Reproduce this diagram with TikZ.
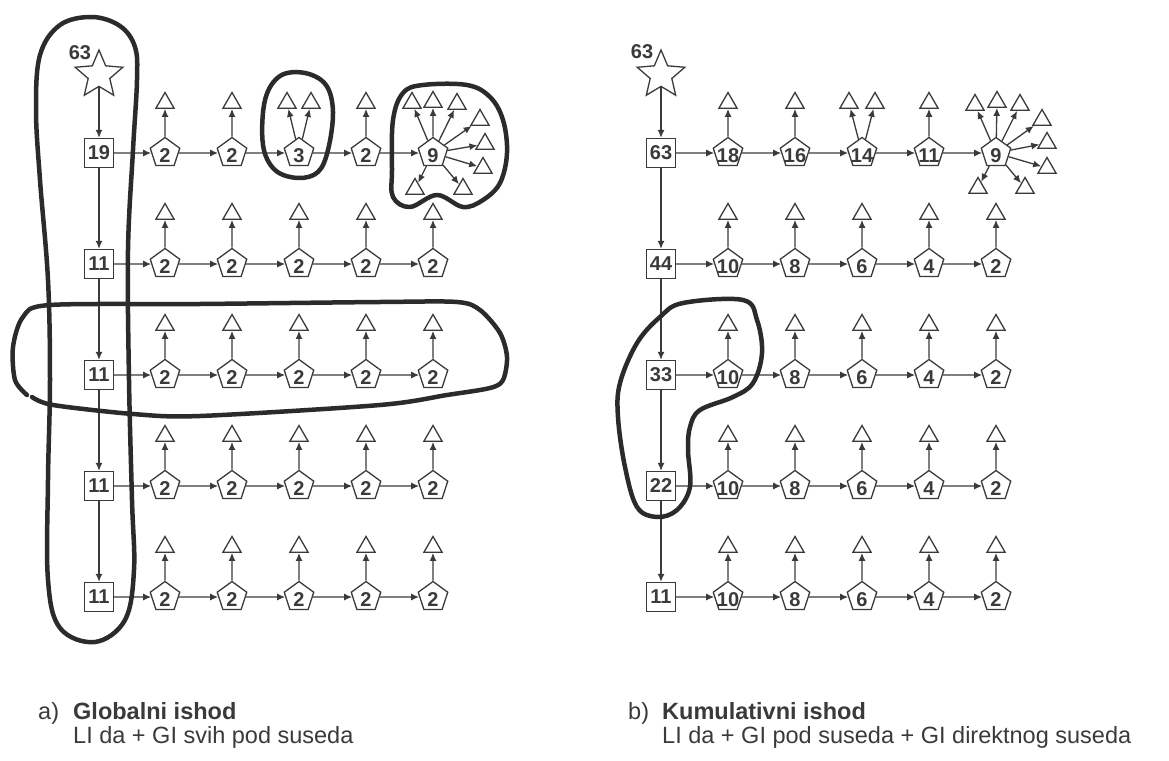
\documentclass[tikz,border=0pt]{standalone}
\usepackage{fontspec}
\setmainfont{Liberation Sans}
\usepackage{tikz}
\usetikzlibrary{calc,shapes.geometric,arrows.meta}
\definecolor{ink}{HTML}{3A3A3A}
\definecolor{hullink}{HTML}{2B2B2B}
\newcommand{\numfont}{\fontsize{20}{20}\selectfont\bfseries}
\newcommand{\capfont}{\fontsize{23.5}{23.5}\selectfont}
\tikzset{
	ln/.style={draw=ink, line width=1.3pt},
	sqbox/.style={ln, minimum size=29pt, inner sep=0pt, font=\numfont, text=ink},
	pent/.style={ln, regular polygon, regular polygon sides=5, minimum size=31pt, inner sep=-5pt, text height=19pt, text depth=0pt, font=\numfont, text=ink},
	tri/.style={ln, regular polygon, regular polygon sides=3, minimum size=21pt, inner sep=0pt},
	startstar/.style={ln, star, star points=5, star point ratio=2.2, minimum size=50pt, inner sep=0pt},
	arr/.style={ln, -{Latex[length=8pt,width=7pt]}},
	hull/.style={draw=hullink, line width=4.5pt, line cap=round, line join=round},
	captext/.style={font=\capfont, text=ink, anchor=base west, inner sep=0pt},
}

\begin{document}
\begin{tikzpicture}[x=1pt,y=-1pt]
	\useasboundingbox (0,0) rectangle (1169,760);

	% a) globalni ishod
	\node[startstar] (La) at (99,75) {};
	\node[font=\numfont, text=ink] (Lsum) at (80,53) {63};
	\foreach \r/\y/\v in {1/153/19,2/264/11,3/375/11,4/486/11,5/597/11}
		\node[sqbox] (L\r) at (99,\y) {\v};
	\foreach \c/\x/\v in {1/165/2,2/232/2,3/299/3,4/366/2,5/433/9}
		\node[pent] (L1-\c) at (\x,153) {\v};
	\foreach \r/\y in {2/264,3/375,4/486,5/597}{
		\foreach \c/\x in {1/165,2/232,3/299,4/366,5/433}{
			\node[pent] (L\r-\c) at (\x,\y) {2};
			\node[tri] (L\r-\c-t) at ($(L\r-\c)+(0,-50)$) {};
			\draw[arr] (L\r-\c) -- (L\r-\c-t);
		}
	}
	\foreach \c in {1,2,4}{
		\node[tri] (L1-\c-t) at ($(L1-\c)+(0,-50)$) {};
		\draw[arr] (L1-\c) -- (L1-\c-t);
	}
	\foreach \i/\dx in {1/-12,2/12}{
		\node[tri] (L1-3-t\i) at ($(L1-3)+(\dx,-50)$) {};
		\draw[arr] (L1-3) -- (L1-3-t\i);
	}
	\foreach \i/\dx/\dy in {1/-21/-50,2/0/-51,3/24/-49,4/47/-33,5/52/-9,6/50/15,7/-18/36,8/30/36}{
		\node[tri] (L1-5-t\i) at ($(L1-5)+(\dx,\dy)$) {};
		\draw[arr] (L1-5) -- (L1-5-t\i);
	}
	\draw[arr] (La) -- (L1);
	\foreach \a/\b in {1/2,2/3,3/4,4/5}
		\draw[arr] (L\a) -- (L\b);
	\foreach \r in {1,...,5}{
		\draw[arr] (L\r) -- (L\r-1);
		\foreach \a/\b in {1/2,2/3,3/4,4/5}
			\draw[arr] (L\r-\a) -- (L\r-\b);
	}

	% b) kumulativni ishod
	\node[startstar] (Ra) at (661,75) {};
	\node[font=\numfont, text=ink] (Rsum) at (642,52) {63};
	\foreach \r/\y/\v in {1/153/63,2/264/44,3/375/33,4/486/22,5/597/11}
		\node[sqbox] (R\r) at (661,\y) {\v};
	\foreach \c/\x/\v in {1/728/18,2/795/16,3/862/14,4/929/11,5/996/9}
		\node[pent] (R1-\c) at (\x,153) {\v};
	\foreach \r/\y in {2/264,3/375,4/486,5/597}{
		\foreach \c/\x/\v in {1/728/10,2/795/8,3/862/6,4/929/4,5/996/2}{
			\node[pent] (R\r-\c) at (\x,\y) {\v};
			\node[tri] (R\r-\c-t) at ($(R\r-\c)+(0,-50)$) {};
			\draw[arr] (R\r-\c) -- (R\r-\c-t);
		}
	}
	\foreach \c in {1,2,4}{
		\node[tri] (R1-\c-t) at ($(R1-\c)+(0,-50)$) {};
		\draw[arr] (R1-\c) -- (R1-\c-t);
	}
	\foreach \i/\dx in {1/-13,2/13}{
		\node[tri] (R1-3-t\i) at ($(R1-3)+(\dx,-50)$) {};
		\draw[arr] (R1-3) -- (R1-3-t\i);
	}
	\foreach \i/\dx/\dy in {1/-21/-48,2/1/-51,3/24/-48,4/46/-33,5/51/-10,6/51/15,7/-18/35,8/29/35}{
		\node[tri] (R1-5-t\i) at ($(R1-5)+(\dx,\dy)$) {};
		\draw[arr] (R1-5) -- (R1-5-t\i);
	}
	\draw[arr] (Ra) -- (R1);
	\foreach \a/\b in {1/2,2/3,3/4,4/5}
		\draw[arr] (R\a) -- (R\b);
	\foreach \r in {1,...,5}{
		\draw[arr] (R\r) -- (R\r-1);
		\foreach \a/\b in {1/2,2/3,3/4,4/5}
			\draw[arr] (R\r-\a) -- (R\r-\b);
	}

	% hand drawn groups
	\draw[hull] plot[smooth cycle, tension=0.6] coordinates {(92,17) (120,26) (135,47) (137,80) (133,150) (128,250) (129,380) (132,500) (134,570) (125,620) (95,642) (60,628) (48,580) (48,480) (50,380) (48,280) (40,180) (36,110) (40,55) (60,25)};
	\draw[hull] plot[smooth, tension=0.5] coordinates {(32,397) (53,405) (133,414) (200,416) (380,405) (447,395) (490,388) (503,380) (507,357) (500,333) (480,310) (457,302) (380,302) (200,304) (50,305) (23,317) (13,347) (15,380) (27,395)};
	\draw[hull] plot[smooth cycle, tension=0.6] coordinates {(265,100) (280,76) (305,73) (326,85) (333,112) (328,150) (318,172) (298,178) (275,170) (263,145)};
	\draw[hull] plot[smooth cycle, tension=0.6] coordinates {(403,93) (423,85) (467,85) (490,97) (503,120) (507,153) (500,183) (483,200) (463,207) (437,195) (410,207) (393,197) (392,170) (393,120)};
	\draw[hull] plot[smooth cycle, tension=0.6] coordinates {(683,303) (743,300) (757,320) (762,353) (753,383) (733,397) (700,410) (690,427) (688,450) (690,487) (677,510) (657,517) (637,507) (625,467) (618,417) (620,383) (637,343) (660,317)};

	% captions
	\node[captext] (acap) at (38,719) {a)};
	\node[captext, font=\capfont\bfseries] (atitle) at (73,719) {Globalni ishod};
	\node[captext] (atext) at (73,743) {LI da + GI svih pod suseda};
	\node[captext] (bcap) at (628,719) {b)};
	\node[captext, font=\capfont\bfseries] (btitle) at (662,719) {Kumulativni ishod};
	\node[captext] (btext) at (662,743) {LI da + GI pod suseda + GI direktnog suseda};
\end{tikzpicture}
\end{document}
